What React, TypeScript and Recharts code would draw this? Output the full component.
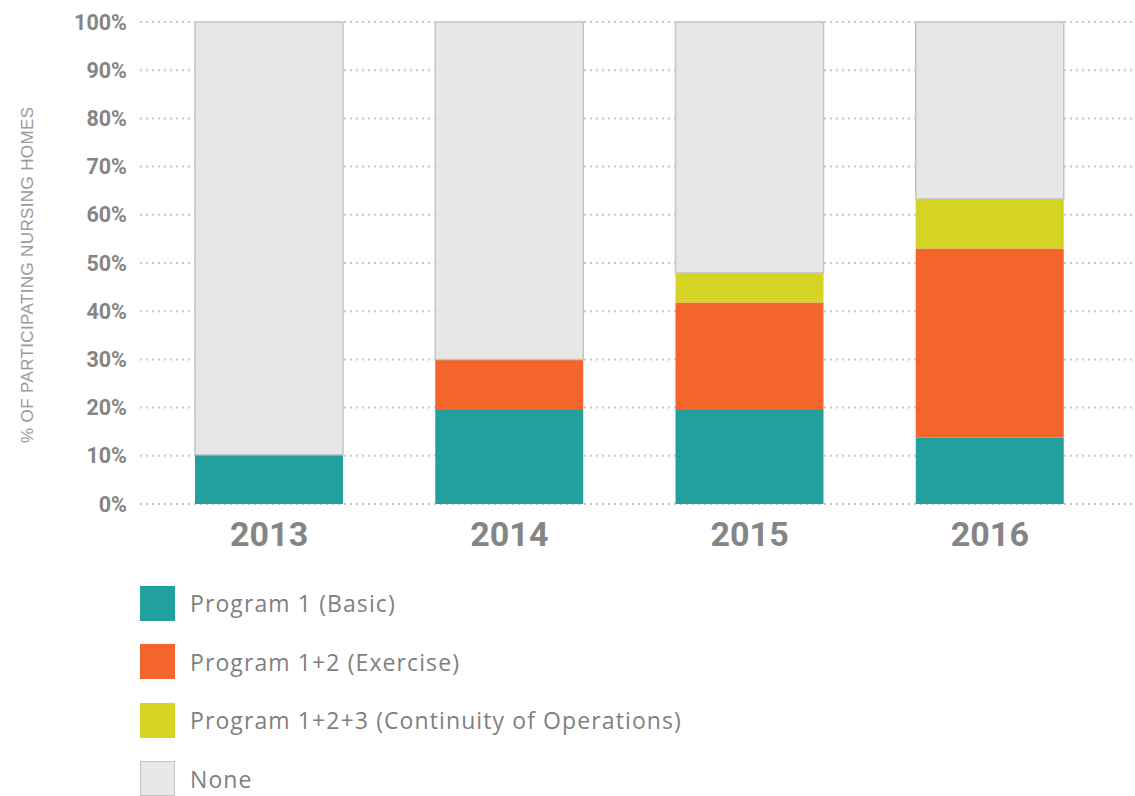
import React from 'react';
import { BarChart, Bar, XAxis, YAxis, CartesianGrid } from 'recharts';

const years = ['2013', '2014', '2015', '2016'];
const program1 = [10.2, 19.5, 19.5, 13.8];
const program12 = [0, 10.5, 22.3, 39.2];
const program123 = [0, 0, 6.1, 10.3];
const none = [89.8, 70, 52.1, 36.7];
const yTicks = [0, 10, 20, 30, 40, 50, 60, 70, 80, 90, 100];

const data = years.map((year, i) => ({
  year,
  p1: program1[i],
  p12: program12[i],
  p123: program123[i],
  none: none[i],
}));

const series = [
  { key: 'p1', label: 'Program 1 (Basic)', color: '#23a09e' },
  { key: 'p12', label: 'Program 1+2 (Exercise)', color: '#f4652c' },
  { key: 'p123', label: 'Program 1+2+3 (Continuity of Operations)', color: '#d5d323' },
  { key: 'none', label: 'None', color: '#e7e7e6', stroke: '#c4c4c4' },
];

const FONT = 'Roboto, "Noto Sans", sans-serif';

// y axis title, placed left of the tick labels
const YTitle = () => (
  <text
    x={33}
    y={275}
    transform="rotate(-90, 33, 275)"
    textAnchor="middle"
    fontSize={17}
    fill="#9a9a9a"
    fontFamily='"Liberation Sans", Arial, sans-serif'
    textLength={336}
    lengthAdjust="spacing"
  >
    % OF PARTICIPATING NURSING HOMES
  </text>
);

const LegendBox = () => (
  <div style={{ position: 'absolute', left: 140, top: 574, fontFamily: '"Open Sans", sans-serif' }}>
    {series.map((s) => (
      <div key={s.key} style={{ display: 'flex', alignItems: 'center', height: 58.5 }}>
        <div
          style={{
            width: s.stroke ? 33 : 35,
            height: s.stroke ? 33 : 35,
            background: s.color,
            border: s.stroke ? `1px solid ${s.stroke}` : 'none',
            marginRight: 15,
          }}
        />
        <span style={{ fontSize: 23, color: '#7f7f7f', whiteSpace: 'nowrap', letterSpacing: 1.1 }}>
          {s.label}
        </span>
      </div>
    ))}
  </div>
);

export default function App() {
  return (
    <div style={{ position: 'absolute', left: 0, top: 0, width: 1135, height: 796 }}>
      <BarChart
        width={1135}
        height={560}
        data={data}
        margin={{ top: 22, right: 0, left: 0, bottom: 6 }}
      >
        <CartesianGrid
          vertical={false}
          stroke="#c8c8c8"
          strokeWidth={2}
          strokeDasharray="2 4"
        />
        <XAxis
          dataKey="year"
          axisLine={false}
          tickLine={false}
          tickSize={0}
          tickMargin={18}
          height={50}
          padding={{ left: 9, right: 25 }}
          tick={{ fontSize: 34, fontWeight: 700, fill: '#858585', fontFamily: FONT }}
        />
        <YAxis
          width={140}
          domain={[0, 100]}
          ticks={yTicks}
          interval={0}
          axisLine={false}
          tickLine={false}
          tickSize={0}
          tickMargin={13}
          tickFormatter={(v) => `${v}%`}
          tick={{ fontSize: 21.5, fontWeight: 700, fill: '#858585', fontFamily: FONT }}
          label={<YTitle />}
        />
        {series.map((s) => (
          <Bar
            key={s.key}
            dataKey={s.key}
            stackId="a"
            fill={s.color}
            stroke={s.stroke}
            strokeWidth={s.stroke ? 1.5 : 0}
            barSize={148}
            isAnimationActive={false}
          />
        ))}
      </BarChart>
      <LegendBox />
    </div>
  );
}
